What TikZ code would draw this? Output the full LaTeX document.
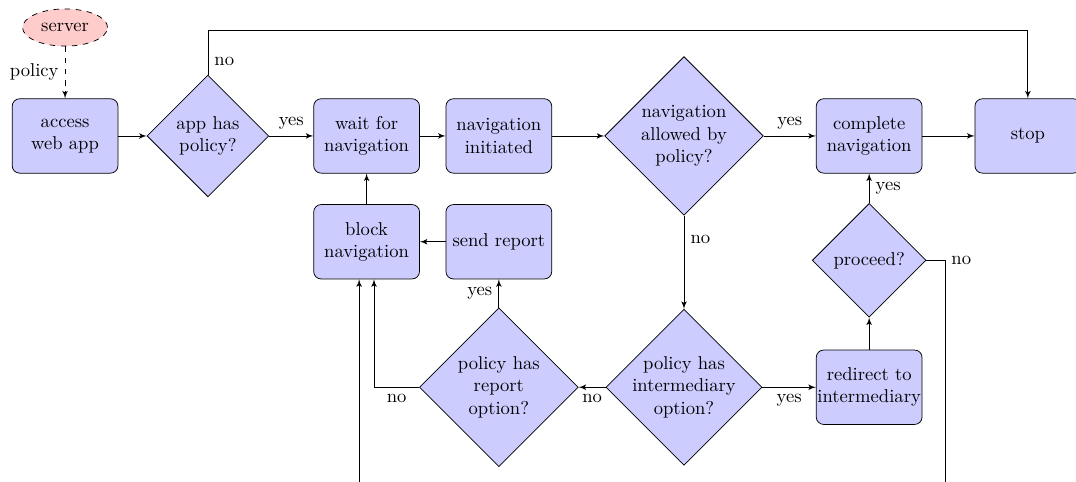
\documentclass[tikz,border=0pt]{standalone}
\usepackage{tikz}
\usetikzlibrary{shapes.geometric,arrows,positioning}

\begin{document}
\begin{tikzpicture}[
block/.style={
	rectangle, draw, fill=blue!20,
	rounded corners, align=center,
	minimum width=2cm, minimum height=4em,
	inner xsep=0.5pt
},
decision/.style={
	diamond, draw, fill=blue!20,
	align=center, inner sep=0pt,
	minimum size=2.15cm
},
source/.style={
	draw, dashed, ellipse, fill=red!20,
	minimum height=2em
},
>=latex', on grid
]
\useasboundingbox (-1.23,2.57) rectangle (19.11,-6.54);
\node[block] (access) {access\\web app};
\node[source, above=2.05cm of access] (server) {server};
\node[decision, right=2.7cm of access, minimum size=2.3cm] (haspolicy) {app has\\policy?};
\node[block, right=3cm of haspolicy] (wait) {wait for\\navigation};
\node[block, right=2.5cm of wait] (init) {navigation\\initiated};
\node[decision, right=3.5cm of init, minimum size=3cm] (allowed) {navigation\\allowed by\\policy?};
\node[block, right=3.5cm of allowed] (complete) {complete\\navigation};
\node[block, right=3cm of complete] (stop) {stop};
\node[block, below=2cm of wait] (blocknav) {block\\navigation};
\node[block, right=2.5cm of blocknav] (report) {send report};
\node[decision, below=2.35cm of complete] (proceed) {proceed?};
\node[decision, below=4.75cm of allowed, minimum size=2.95cm, inner xsep=-2.5pt] (hasinter) {policy has\\intermediary\\option?};
\node[decision, left=3.5cm of hasinter, minimum size=3cm] (hasreport) {policy has\\report\\option?};
\node[block, right=3.5cm of hasinter] (redirect) {redirect to\\intermediary};
\coordinate[above=2cm of haspolicy] (top);
\coordinate[right=0.35cm of proceed.east] (turn);
\coordinate[below=5cm of turn] (bottom);

\draw[->, dashed] (server) -- node[left] {policy} (access);
\draw[->] (access) -- (haspolicy);
\draw[->] (haspolicy) -- node[above] {yes} (wait);
\draw[->] (haspolicy) -- node[right, pos=0.3] {no} (top) -| (stop);
\draw[->] (wait) -- (init);
\draw[->] (init) -- (allowed);
\draw[->] (allowed) -- node[above] {yes} (complete);
\draw[->] (complete) -- (stop);
\draw[->] (allowed) -- node[right, near start] {no} (hasinter);
\draw[->] (hasinter) -- node[below] {no} (hasreport);
\draw[->] (hasinter) -- node[below] {yes} (redirect);
\draw[->] (redirect) -- (proceed);
\draw[->] (proceed) -- node[right] {yes} (complete);
\draw[->] (hasreport) -- node[left] {yes} (report);
\draw[->] (report) -- (blocknav);
\draw[->] (blocknav) -- (wait);
\draw[->] (hasreport) -| node[below, pos=0.25] {no} ([xshift=4pt]blocknav.south);
\draw[->] (proceed) -- (turn) node[right] {no} -- (bottom) -| ([xshift=-4pt]blocknav.south);
\end{tikzpicture}
\end{document}
